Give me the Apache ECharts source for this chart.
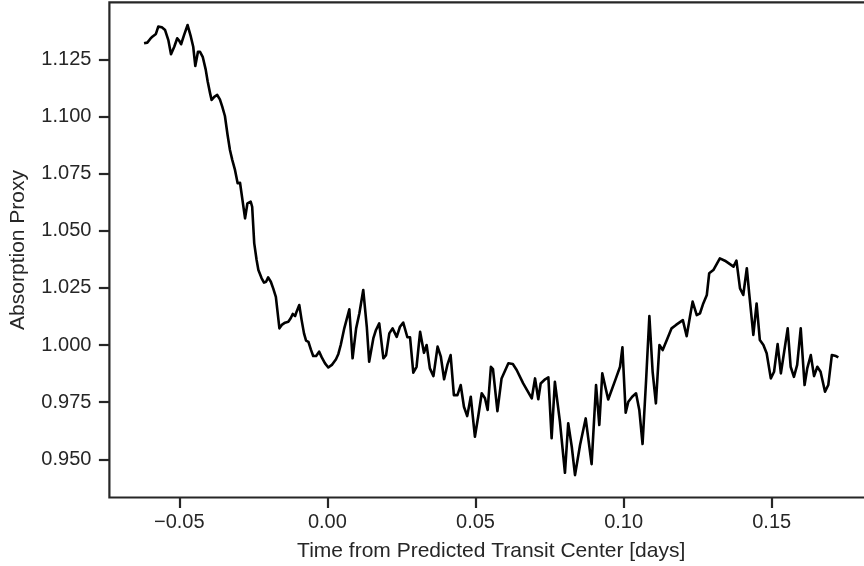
<!DOCTYPE html>
<html>
<head>
<meta charset="utf-8">
<script src="https://cdn.jsdelivr.net/npm/echarts@6/dist/echarts.min.js"></script>
<style>
  html, body { margin: 0; padding: 0; background: #fff; }
  #chart { width: 864px; height: 566px; }
</style>
</head>
<body>
<div id="chart"></div>
<script>
// Time from predicted transit center (days)
const times = [
  -0.0619, -0.0608, -0.0599, -0.0591, -0.0585, -0.0579, -0.0571, -0.0559, -0.0548, -0.0537,
  -0.0528, -0.0517, -0.0507, -0.0500, -0.0494, -0.0484, -0.0472, -0.0461, -0.0453, -0.0446,
  -0.0437, -0.0430, -0.0421, -0.0411, -0.0404, -0.0396, -0.0391, -0.0382, -0.0372, -0.0363,
  -0.0355, -0.0346, -0.0337, -0.0329, -0.0321, -0.0312, -0.0303, -0.0295, -0.0289, -0.0278,
  -0.0270, -0.0259, -0.0254, -0.0247, -0.0239, -0.0233, -0.0222, -0.0214, -0.0207, -0.0200,
  -0.0191, -0.0183, -0.0174, -0.0162, -0.0154, -0.0143, -0.0132, -0.0124, -0.0117, -0.0109,
  -0.0104, -0.0095, -0.0087, -0.0079, -0.0072, -0.0064, -0.0056, -0.0048, -0.0038, -0.0028,
  -0.0019, -0.0008, 0.0003, 0.0015, 0.0029, 0.0037, 0.0045, 0.0057, 0.0074, 0.0085,
  0.0097, 0.0108, 0.0121, 0.0133, 0.0141, 0.0155, 0.0164, 0.0175, 0.0189, 0.0198,
  0.0209, 0.0220, 0.0234, 0.0245, 0.0256, 0.0270, 0.0279, 0.0290, 0.0301, 0.0313,
  0.0326, 0.0335, 0.0346, 0.0358, 0.0372, 0.0383, 0.0394, 0.0405, 0.0416, 0.0427,
  0.0439, 0.0450, 0.0461, 0.0472, 0.0484, 0.0498, 0.0509, 0.0521, 0.0532, 0.0541,
  0.0552, 0.0559, 0.0574, 0.0588, 0.0611, 0.0626, 0.0639, 0.0661, 0.0690, 0.0701,
  0.0712, 0.0720, 0.0735, 0.0746, 0.0757, 0.0768, 0.0785, 0.0802, 0.0813, 0.0825,
  0.0836, 0.0853, 0.0872, 0.0892, 0.0907, 0.0918, 0.0928, 0.0948, 0.0974, 0.0988,
  0.0996, 0.1007, 0.1016, 0.1029, 0.1042, 0.1053, 0.1064, 0.1076, 0.1087, 0.1098,
  0.1109, 0.1121, 0.1132, 0.1148, 0.1162, 0.1177, 0.1200, 0.1213, 0.1224, 0.1233,
  0.1247, 0.1258, 0.1269, 0.1281, 0.1289, 0.1303, 0.1325, 0.1342, 0.1359, 0.1371,
  0.1381, 0.1393, 0.1404, 0.1416, 0.1424, 0.1438, 0.1449, 0.1460, 0.1472, 0.1483,
  0.1497, 0.1508, 0.1520, 0.1531, 0.1543, 0.1554, 0.1564, 0.1575, 0.1586, 0.1598,
  0.1611, 0.1620, 0.1632, 0.1643, 0.1654, 0.1665, 0.1680, 0.1691, 0.1703, 0.1717,
  0.1725
];

// Absorption proxy at each time
const absorption = [
  1.1320, 1.1323, 1.1338, 1.1349, 1.1346, 1.1361, 1.1393, 1.1390, 1.1378, 1.1334,
  1.1272, 1.1305, 1.1342, 1.1331, 1.1316, 1.1356, 1.1400, 1.1349, 1.1305, 1.1221,
  1.1283, 1.1283, 1.1261, 1.1206, 1.1152, 1.1101, 1.1072, 1.1086, 1.1094, 1.1075,
  1.1043, 1.1002, 1.0919, 1.0853, 1.0809, 1.0766, 1.0708, 1.0710, 1.0704, 1.0554,
  1.0620, 1.0627, 1.0605, 1.0445, 1.0372, 1.0328, 1.0292, 1.0273, 1.0277, 1.0296,
  1.0277, 1.0248, 1.0211, 1.0073, 1.0088, 1.0098, 1.0102, 1.0117, 1.0136, 1.0127,
  1.0146, 1.0175, 1.0109, 1.0051, 1.0019, 1.0014, 0.9981, 0.9952, 0.9952, 0.9971,
  0.9946, 0.9920, 0.9902, 0.9913, 0.9938, 0.9961, 1.0000, 1.0073, 1.0156, 0.9942,
  1.0073, 1.0139, 1.0241, 1.0080, 0.9927, 1.0029, 1.0066, 1.0095, 0.9942, 0.9956,
  1.0051, 1.0073, 1.0036, 1.0080, 1.0098, 1.0034, 1.0034, 0.9879, 0.9905, 1.0058,
  0.9966, 1.0000, 0.9898, 0.9864, 0.9993, 0.9949, 0.9850, 0.9913, 0.9956, 0.9781,
  0.9781, 0.9825, 0.9730, 0.9689, 0.9774, 0.9599, 0.9686, 0.9789, 0.9767, 0.9716,
  0.9905, 0.9895, 0.9711, 0.9854, 0.9920, 0.9917, 0.9891, 0.9832, 0.9767, 0.9854,
  0.9763, 0.9832, 0.9850, 0.9859, 0.9592, 0.9839, 0.9665, 0.9441, 0.9658, 0.9555,
  0.9431, 0.9563, 0.9679, 0.9479, 0.9825, 0.9650, 0.9876, 0.9762, 0.9854, 0.9905,
  0.9990, 0.9704, 0.9752, 0.9774, 0.9789, 0.9716, 0.9567, 0.9847, 1.0127, 0.9883,
  0.9745, 1.0000, 0.9978, 1.0029, 1.0073, 1.0088, 1.0109, 1.0039, 1.0124, 1.0190,
  1.0131, 1.0139, 1.0182, 1.0219, 1.0314, 1.0328, 1.0379, 1.0369, 1.0354, 1.0343,
  1.0369, 1.0248, 1.0219, 1.0336, 1.0226, 1.0044, 1.0182, 1.0022, 1.0000, 0.9964,
  0.9854, 0.9883, 1.0004, 0.9876, 0.9978, 1.0073, 0.9905, 0.9861, 0.9913, 1.0073,
  0.9825, 0.9898, 0.9956, 0.9864, 0.9905, 0.9883, 0.9796, 0.9825, 0.9956, 0.9952,
  0.9946
];

// Tick positions shown on each axis
const xTicks = [-0.05, 0.00, 0.05, 0.10, 0.15];
const yTicks = [0.950, 0.975, 1.000, 1.025, 1.050, 1.075, 1.100, 1.125];

const points = times.map((t, i) => [t, absorption[i]]);

const ink = '#262626';
const font = "'Liberation Sans', Arial, sans-serif";

const chart = echarts.init(document.getElementById('chart'), null, { renderer: 'canvas' });
chart.setOption({
  backgroundColor: '#ffffff',
  animation: false,
  grid: {
    left: 109.4,
    top: 2.4,
    width: 763.6,
    height: 495.1,
    outerBoundsMode: 'none',
    containLabel: false,
    show: true,
    borderColor: ink,
    borderWidth: 2.2,
    backgroundColor: 'transparent'
  },
  xAxis: {
    type: 'value',
    min: -0.0736,
    max: 0.1842,
    name: 'Time from Predicted Transit Center [days]',
    nameLocation: 'middle',
    nameGap: 43,
    nameTextStyle: { color: ink, fontSize: 21, fontFamily: font },
    axisLine: { show: false, onZero: false },
    splitLine: { show: false },
    axisTick: {
      show: true,
      customValues: xTicks,
      length: 10.5,
      lineStyle: { color: ink, width: 2.2 }
    },
    axisLabel: {
      customValues: xTicks,
      margin: 15,
      color: ink,
      fontSize: 20,
      fontFamily: font,
      formatter: v => (v < 0 ? '\u2212' : '') + Math.abs(v).toFixed(2)
    }
  },
  yAxis: {
    type: 'value',
    min: 0.9333,
    max: 1.1499,
    name: 'Absorption Proxy',
    nameLocation: 'middle',
    nameGap: 81,
    nameRotate: 90,
    nameTextStyle: { color: ink, fontSize: 21, fontFamily: font },
    axisLine: { show: false, onZero: false },
    splitLine: { show: false },
    axisTick: {
      show: true,
      customValues: yTicks,
      length: 10.5,
      lineStyle: { color: ink, width: 2.2 }
    },
    axisLabel: {
      customValues: yTicks,
      margin: 18,
      color: ink,
      fontSize: 20,
      fontFamily: font,
      formatter: v => v.toFixed(3)
    }
  },
  series: [{
    type: 'line',
    data: points,
    showSymbol: false,
    symbol: 'none',
    lineStyle: { color: '#000000', width: 2.6, join: 'round' },
    silent: true
  }]
});
</script>
</body>
</html>
